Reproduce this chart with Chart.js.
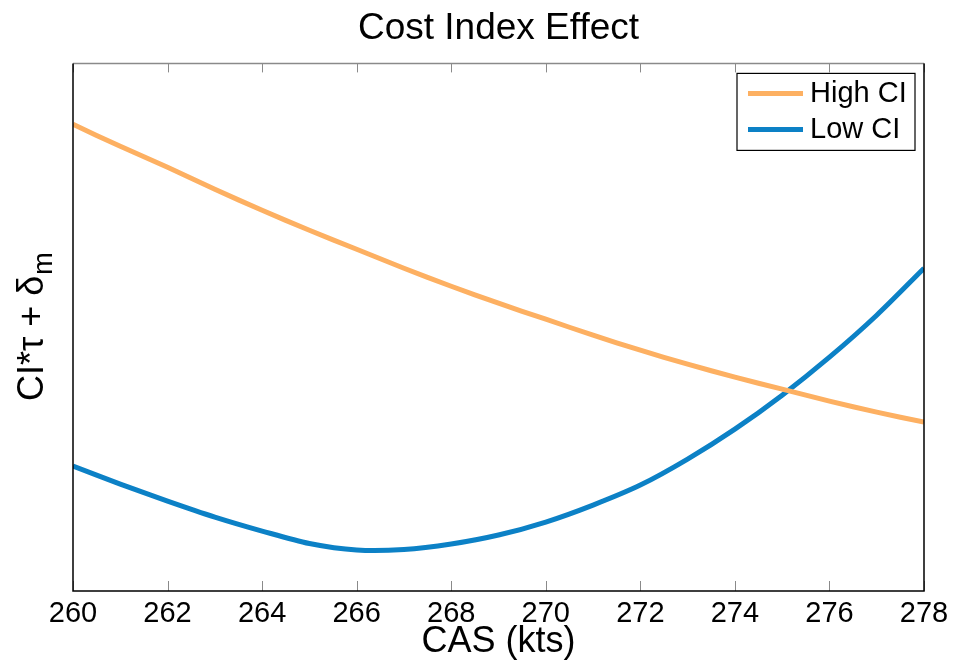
<!DOCTYPE html>
<html>
<head>
<meta charset="utf-8">
<title>Cost Index Effect</title>
<script src="https://cdn.jsdelivr.net/npm/chart.js@4.4.1/dist/chart.umd.min.js"></script>
<style>
  html, body { margin: 0; padding: 0; background: #fff; }
  #wrap { width: 955px; height: 671px; position: relative; }
</style>
</head>
<body>
<div id="wrap"><canvas id="c" width="955" height="671"></canvas></div>
<script>
'use strict';
// CAS (kts) and the two cost curves (arbitrary y units)
var casValues = [260, 261, 262, 263, 264, 265, 266, 267, 268, 269,
                 270, 271, 272, 273, 274, 275, 276, 277, 278];
var highCI = [46.7, 44.5, 42.4, 40.2, 38.1, 36.1, 34.2, 32.3, 30.5, 28.8,
              27.2, 25.6, 24.1, 22.7, 21.4, 20.2, 19.0, 17.9, 16.9];
var lowCI  = [12.5, 10.7, 9.0, 7.4, 6.0, 4.75, 4.1, 4.15, 4.7, 5.6,
              6.9, 8.6, 10.6, 13.2, 16.2, 19.6, 23.4, 27.6, 32.3];
var xTicks = [260, 262, 264, 266, 268, 270, 272, 274, 276, 278];

var FONT = '"Liberation Sans", Arial, Helvetica, sans-serif';

function pts(ys) {
    return casValues.map(function (x, i) { return {x: x, y: ys[i]}; });
}

// box, inward ticks, y label and legend, matlab style
var matlabAxes = {
    id: 'matlabAxes',
    afterDraw: function (chart) {
        var ctx = chart.ctx, a = chart.chartArea, xs = chart.scales.x;
        ctx.save();
        // inward ticks
        ctx.strokeStyle = '#8a8a8a';
        ctx.lineWidth = 1;
        xs.ticks.forEach(function (t) {
            var px = Math.round(xs.getPixelForValue(t.value)) + 0.5;
            ctx.beginPath();
            ctx.moveTo(px, a.bottom); ctx.lineTo(px, a.bottom - 10);
            ctx.moveTo(px, a.top); ctx.lineTo(px, a.top + 9);
            ctx.stroke();
        });
        // box
        ctx.strokeStyle = '#8a8a8a';
        ctx.lineWidth = 1.5;
        ctx.beginPath(); ctx.moveTo(a.left, a.top); ctx.lineTo(a.right, a.top); ctx.stroke();
        ctx.strokeStyle = '#000';
        ctx.beginPath();
        ctx.moveTo(a.left, a.top); ctx.lineTo(a.left, a.bottom);
        ctx.lineTo(a.right, a.bottom); ctx.lineTo(a.right, a.top);
        ctx.stroke();

        // y label with subscript
        var main = 'CI*\u03C4 + \u03B4', sub = 'm';
        ctx.fillStyle = '#000';
        ctx.translate(43, (a.top + a.bottom) / 2);
        ctx.rotate(-Math.PI / 2);
        ctx.font = '36px ' + FONT;
        var w1 = ctx.measureText(main).width;
        ctx.font = '27px ' + FONT;
        var w2 = ctx.measureText(sub).width;
        var x0 = -(w1 + w2) / 2;
        ctx.textBaseline = 'alphabetic';
        ctx.textAlign = 'left';
        ctx.font = '36px ' + FONT;
        ctx.fillText(main, x0, 0);
        ctx.font = '27px ' + FONT;
        ctx.fillText(sub, x0 + w1 + 1, 9);
        ctx.restore();

        // legend box
        ctx.save();
        var bx = a.right - 187, by = a.top + 10, bw = 178, bh = 77;
        ctx.fillStyle = '#fff';
        ctx.fillRect(bx, by, bw, bh);
        ctx.strokeStyle = '#000';
        ctx.lineWidth = 1.2;
        ctx.strokeRect(bx, by, bw, bh);
        ctx.font = '29px ' + FONT;
        ctx.textBaseline = 'middle';
        chart.data.datasets.forEach(function (ds, i) {
            var ly = by + 20 + i * 36;
            ctx.strokeStyle = ds.borderColor;
            ctx.lineWidth = 5;
            ctx.beginPath(); ctx.moveTo(bx + 11, ly); ctx.lineTo(bx + 66, ly); ctx.stroke();
            ctx.fillStyle = '#000';
            ctx.fillText(ds.label, bx + 73, ly + 1);
        });
        ctx.restore();
    }
};

new Chart(document.getElementById('c'), {
    type: 'line',
    data: {
        datasets: [
            {label: 'High CI', data: pts(highCI), borderColor: '#FDB062', borderWidth: 5},
            {label: 'Low CI', data: pts(lowCI), borderColor: '#0C81C6', borderWidth: 5}
        ]
    },
    options: {
        responsive: false,
        animation: false,
        layout: {padding: {left: 73, right: 31, top: 0, bottom: 0}},
        elements: {point: {radius: 0}, line: {tension: 0.3}},
        plugins: {
            legend: {display: false},
            tooltip: {enabled: false},
            title: {
                display: true,
                text: 'Cost Index Effect',
                color: '#000',
                font: {family: FONT, size: 37, weight: 'normal'},
                padding: {top: 7, bottom: 12}
            }
        },
        scales: {
            x: {
                type: 'linear',
                min: 260, max: 278,
                afterBuildTicks: function (s) { s.ticks = xTicks.map(function (v) { return {value: v}; }); },
                afterFit: function (s) { s.height = 80; },
                grid: {display: false, drawTicks: false},
                border: {display: false},
                ticks: {color: '#000', padding: 6, maxRotation: 0, font: {family: FONT, size: 29}},
                title: {
                    display: true, text: 'CAS (kts)', color: '#000',
                    font: {family: FONT, size: 36}, padding: {top: 0, bottom: 7}
                }
            },
            y: {
                display: false,
                min: 0, max: 52.8
            }
        }
    },
    plugins: [matlabAxes]
});
</script>
</body>
</html>
